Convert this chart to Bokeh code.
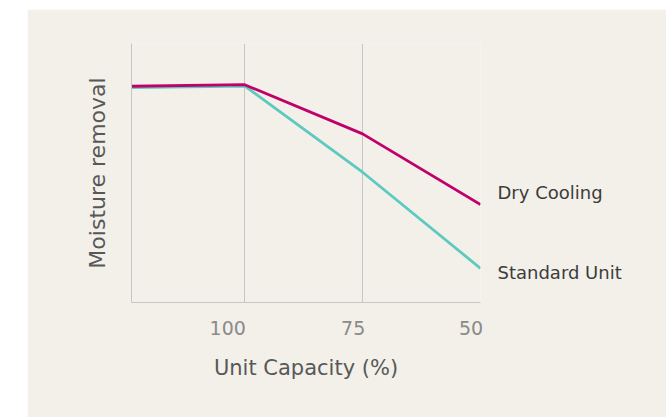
from bokeh.plotting import figure
from bokeh.models import Range1d, FixedTicker, LinearAxis
from bokeh.embed import file_html
from bokeh.resources import INLINE

# ---- data ----
capacity = [124, 100, 75, 50]
dry_cooling = [83.5, 84.1, 65.1, 37.8]
standard_unit = [83.0, 83.6, 50.3, 13.2]
tick_values = [100, 75, 50]
tick_labels = ["100", "75", "50"]
series_names = ["Dry Cooling", "Standard Unit"]
x_title = "Unit Capacity (%)"
y_title = "Moisture removal"

# ---- styles ----
BG = "#f2f0e9"
GRID = "#c6c6c6"
MAGENTA = "#c1006b"
TEAL = "#5ec9bf"
FONT = "DejaVu Sans"

p = figure(width=639, height=408,
           x_range=Range1d(capacity[0], capacity[-1]),
           y_range=Range1d(0, 100),
           output_backend="svg", toolbar_location=None,
           min_border_left=104, min_border_right=186,
           min_border_top=34, min_border_bottom=115,
           background_fill_color=BG, border_fill_color=BG,
           outline_line_color=None, margin=(9, 0, 0, 27))

ticker = FixedTicker(ticks=tick_values)

# bottom axis line only
xa = p.xaxis[0]
xa.ticker = FixedTicker(ticks=[])
xa.axis_line_color = GRID
xa.major_tick_line_color = None
xa.minor_tick_line_color = None
xa.major_tick_out = 0
xa.major_label_standoff = 0

# tick labels set right-aligned to their grid lines (shift ~ half label width)
label_pos = [t + 1.6 * len(lab) - 1.2 for t, lab in zip(tick_values, tick_labels)]
xl = LinearAxis(ticker=FixedTicker(ticks=label_pos),
                major_label_overrides={pos: lab for pos, lab in zip(label_pos, tick_labels)},
                axis_line_color=None, major_tick_line_color=None,
                minor_tick_line_color=None, major_tick_out=0,
                major_label_standoff=18,
                major_label_text_font=FONT, major_label_text_font_size="19px",
                major_label_text_color="#8a8a8a",
                axis_label=x_title, axis_label_standoff=18,
                axis_label_text_font=FONT, axis_label_text_font_size="21px",
                axis_label_text_font_style="normal",
                axis_label_text_color="#585858")
p.add_layout(xl, "below")

p.xgrid.ticker = ticker
p.xgrid.grid_line_color = GRID
p.ygrid.visible = False

ya = p.yaxis[0]
ya.ticker = FixedTicker(ticks=[])
ya.axis_line_color = GRID
ya.major_tick_line_color = None
ya.minor_tick_line_color = None
ya.major_label_standoff = 0
ya.axis_label = y_title
ya.axis_label_standoff = 22
ya.axis_label_text_font = FONT
ya.axis_label_text_font_size = "22px"
ya.axis_label_text_font_style = "normal"
ya.axis_label_text_color = "#585858"

p.line(capacity, standard_unit, line_color=TEAL, line_width=2.8)
p.line(capacity, dry_cooling, line_color=MAGENTA, line_width=2.8)

# series names placed at the line ends on a right-hand axis
name_pos = [dry_cooling[-1] + 4.6, standard_unit[-1] - 1.6]
ra = LinearAxis(ticker=FixedTicker(ticks=name_pos),
                major_label_overrides={pos: n for pos, n in zip(name_pos, series_names)},
                axis_line_color=None, major_tick_line_color=None,
                minor_tick_line_color=None, major_label_standoff=11,
                major_label_text_font=FONT, major_label_text_font_size="18px",
                major_label_text_color="#3c3c3c")
p.add_layout(ra, "right")

open("out.html", "w").write(file_html(p, INLINE))
